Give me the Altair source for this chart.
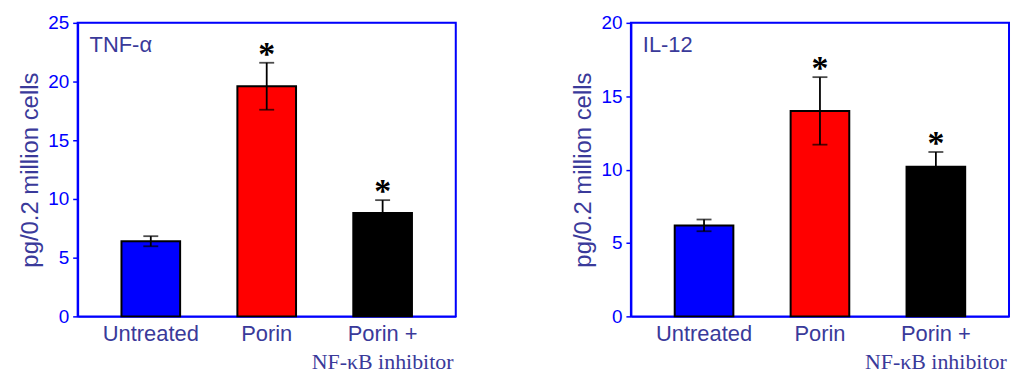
import altair as alt
import pandas as pd

categories = ["Untreated", "Porin", "Porin +"]
bar_colors = ["#0000ff", "#ff0000", "#000000"]

tnf_mean = [6.4, 19.6, 8.8]
tnf_err = [0.43, 2.0, 1.1]
tnf_star = ["", "*", "*"]

il12_mean = [6.2, 14.0, 10.2]
il12_err = [0.4, 2.3, 1.0]
il12_star = ["", "*", "*"]

second_line_cat = ["Porin +"]
second_line_text = ["NF-\u03baB inhibitor"]

TXT = "#3a3a9a"
BLUE = "#0000ff"
W, H = 380, 295


def panel(mean, err, star, ymax, label):
    df = pd.DataFrame({
        "cat": categories,
        "mean": mean,
        "lo": [m - e for m, e in zip(mean, err)],
        "hi": [m + e for m, e in zip(mean, err)],
        "star": star,
        "color": bar_colors,
    })
    x = alt.X("cat:N", sort=categories,
              scale=alt.Scale(paddingInner=0.494, paddingOuter=0.378),
              axis=alt.Axis(title=None, labelAngle=0, ticks=False,
                            labelFont="Liberation Sans", labelFontSize=22,
                            labelColor=TXT, labelPadding=7,
                            domainColor=BLUE, domainWidth=2))
    yscale = alt.Scale(domain=[0, ymax], nice=False)
    yaxis = alt.Axis(title="pg/0.2 million cells", values=list(range(0, ymax + 1, 5)),
                     titleFont="Liberation Sans", titleFontSize=24,
                     titleFontWeight="normal", titleColor=TXT, titlePadding=5,
                     labelFont="Liberation Sans", labelFontSize=19,
                     labelColor=BLUE, labelPadding=4,
                     tickColor=BLUE, tickSize=5, tickWidth=1.5,
                     domainColor=BLUE, domainWidth=2, grid=False)
    base = alt.Chart(df)
    frame = alt.Chart(pd.DataFrame({"k": [0]})).mark_rect(
        fill="white", fillOpacity=0, stroke=BLUE, strokeWidth=2).encode(
        x=alt.value(0), x2=alt.value(W), y=alt.value(0), y2=alt.value(H))
    bars = base.mark_bar(stroke="black", strokeWidth=2).encode(
        x=x,
        y=alt.Y("mean:Q", scale=yscale, axis=yaxis),
        color=alt.Color("color:N", scale=None),
    )
    rule = base.mark_rule(color="black", strokeWidth=1.8).encode(
        x=alt.X("cat:N", sort=categories), y="lo:Q", y2="hi:Q")
    cap_hi = base.mark_tick(color="black", size=15, thickness=1.8).encode(
        x=alt.X("cat:N", sort=categories), y="hi:Q")
    cap_lo = base.mark_tick(color="black", size=15, thickness=1.8).encode(
        x=alt.X("cat:N", sort=categories), y="lo:Q")
    stars = base.mark_text(font="Liberation Serif", fontSize=34, fontWeight="bold",
                           color="black", baseline="middle", dy=-8).encode(
        x=alt.X("cat:N", sort=categories), y="hi:Q", text="star:N")
    title = alt.Chart(pd.DataFrame({"t": [label]})).mark_text(
        font="Liberation Sans", fontSize=22, color=TXT, align="left",
        baseline="middle").encode(x=alt.value(12), y=alt.value(22), text="t:N")
    line2 = alt.Chart(pd.DataFrame({"cat": second_line_cat, "t": second_line_text})).mark_text(
        font="Liberation Serif", fontSize=22, color=TXT, baseline="middle").encode(
        x=alt.X("cat:N", sort=categories), y=alt.value(H + 46), text="t:N")
    return alt.layer(frame, bars, rule, cap_hi, cap_lo, stars, title, line2).properties(
        width=W, height=H)


left = panel(tnf_mean, tnf_err, tnf_star, 25, "TNF-\u03b1")
right = panel(il12_mean, il12_err, il12_star, 20, "IL-12")

chart = alt.hconcat(left, right, spacing=114).properties(
    padding={"left": 10, "top": 4, "right": 0, "bottom": 0}
).configure_view(stroke=None).configure(background="white")

chart.save("out.html", embed_options={"renderer": "svg", "actions": False})
